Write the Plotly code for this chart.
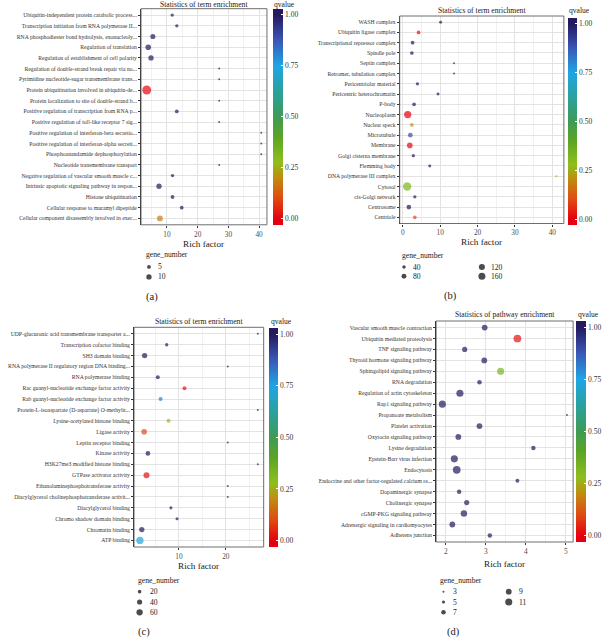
import plotly.graph_objects as go

W, H = 604, 638
FONT = "Liberation Serif"

# ---------------- data ----------------
a_terms = [
    "Ubiquitin-independent protein catabolic process...",
    "Transcription initiation from RNA polymerase II...",
    "RNA phosphodiester bond hydrolysis, exonucleoly...",
    "Regulation of translation",
    "Regulation of establishment of cell polarity",
    "Regulation of double-strand break repair via no...",
    "Pyrimidine nucleotide-sugar transmembrane trans...",
    "Protein ubiquitination involved in ubiquitin-de...",
    "Protein localization to site of double-strand b...",
    "Positive regulation of transcription from RNA p...",
    "Positive regulation of toll-like receptor 7 sig...",
    "Positive regulation of interferon-beta secretio...",
    "Positive regulation of interferon-alpha secreti...",
    "Phosphoanandamide dephosphorylation",
    "Nucleotide transmembrane transport",
    "Negative regulation of vascular smooth muscle c...",
    "Intrinsic apoptotic signaling pathway in respon...",
    "Histone ubiquitination",
    "Cellular response to muramyl dipeptide",
    "Cellular component disassembly involved in exec...",
]
a_rich = [11.7, 13.2, 5.4, 3.9, 4.8, 27.0, 27.0, 3.4, 27.0, 13.2,
          27.0, 40.7, 40.7, 40.7, 27.0, 11.8, 7.4, 11.8, 14.8, 7.7]
a_qvalue = [1.0, 1.0, 1.0, 1.0, 1.0, 1.0, 1.0, 0.01, 1.0, 1.0,
            1.0, 1.0, 1.0, 1.0, 1.0, 1.0, 1.0, 1.0, 1.0, 0.18]
a_genes = [4, 4, 9, 11, 10, 1, 1, 28, 1, 5, 1, 1, 1, 1, 1, 4, 10, 5, 5, 12]
a_breaks = [5, 10]

b_terms = [
    "WASH complex", "Ubiquitin ligase complex", "Transcriptional repressor complex",
    "Spindle pole", "Septin complex", "Retromer, tubulation complex",
    "Pericentriolar material", "Pericentric heterochromatin", "P-body",
    "Nucleoplasm", "Nuclear speck", "Microtubule", "Membrane",
    "Golgi cisterna membrane", "Flemming body", "DNA polymerase III complex",
    "Cytosol", "cis-Golgi network", "Centrosome", "Centriole",
]
b_rich = [10.1, 4.2, 2.6, 2.4, 13.7, 13.7, 3.9, 9.4, 3.0, 1.3,
          2.4, 2.0, 1.85, 2.8, 7.2, 41.1, 1.15, 3.2, 1.6, 3.2]
b_qvalue = [1.0, 0.02, 1.0, 1.0, 1.0, 1.0, 1.0, 1.0, 1.0, 0.0,
            0.22, 0.9, 0.01, 1.0, 1.0, 0.27, 0.32, 1.0, 1.0, 0.1]
b_genes = [29, 45, 45, 45, 8, 8, 36, 29, 45, 175, 45, 72, 105, 36, 29, 5, 225, 36, 72, 45]
b_breaks = [40, 80, 120, 160]

c_terms = [
    "UDP-glucuronic acid transmembrane transporter a...",
    "Transcription cofactor binding",
    "SH3 domain binding",
    "RNA polymerase II regulatory region DNA binding...",
    "RNA polymerase binding",
    "Rac guanyl-nucleotide exchange factor activity",
    "Rab guanyl-nucleotide exchange factor activity",
    "Protein-L-isoaspartate (D-aspartate) O-methyltr...",
    "Lysine-acetylated histone binding",
    "Ligase activity",
    "Leptin receptor binding",
    "Kinase activity",
    "H3K27me3 modified histone binding",
    "GTPase activator activity",
    "Ethanolaminephosphotransferase activity",
    "Diacylglycerol cholinephosphotransferase activit...",
    "Diacylglycerol binding",
    "Chromo shadow domain binding",
    "Chromatin binding",
    "ATP binding",
]
c_rich = [26.8, 7.4, 2.7, 20.4, 5.5, 11.2, 6.1, 26.8, 7.8, 2.6,
          20.4, 3.4, 26.8, 3.1, 20.4, 20.4, 8.3, 9.6, 2.1, 1.7]
c_qvalue = [1.0, 1.0, 1.0, 1.0, 1.0, 0.02, 0.82, 1.0, 0.28, 0.1,
            1.0, 1.0, 1.0, 0.02, 1.0, 1.0, 1.0, 1.0, 1.0, 0.74]
c_genes = [3, 17, 42, 3, 24, 24, 24, 3, 24, 48, 3, 33, 3, 54, 3, 3, 14, 14, 42, 80]
c_breaks = [20, 40, 60]

d_terms = [
    "Vascular smooth muscle contraction", "Ubiquitin mediated proteolysis",
    "TNF signaling pathway", "Thyroid hormone signaling pathway",
    "Sphingolipid signaling pathway", "RNA degradation",
    "Regulation of actin cytoskeleton", "Rap1 signaling pathway",
    "Propanoate metabolism", "Platelet activation", "Oxytocin signaling pathway",
    "Lysine degradation", "Epstein-Barr virus infection", "Endocytosis",
    "Endocrine and other factor-regulated calcium re...", "Dopaminergic synapse",
    "Cholinergic synapse", "cGMP-PKG signaling pathway",
    "Adrenergic signaling in cardiomyocytes", "Adherens junction",
]
d_rich = [2.97, 3.79, 2.47, 2.96, 3.37, 2.84, 2.35, 1.91, 5.03, 2.84,
          2.31, 4.19, 2.21, 2.27, 3.79, 2.33, 2.52, 2.45, 2.16, 3.10]
d_qvalue = [1.0, 0.02, 1.0, 1.0, 0.33, 1.0, 1.0, 1.0, 1.0, 1.0,
            1.0, 1.0, 1.0, 1.0, 1.0, 1.0, 1.0, 1.0, 1.0, 1.0]
d_genes = [9, 12, 8, 9, 11, 7, 11, 11, 3, 9, 9, 7, 11, 12, 6, 7, 8, 10, 9, 7]
d_breaks = [3, 5, 7, 9, 11]

q_ticks = [0.0, 0.25, 0.5, 0.75, 1.0]


# ---------------- styling ----------------
def fx(p):
    return p / W


def fy(p):
    return 1 - p / H


Q_STOPS = [(0.0, "#e6000f"), (0.1, "#e04a12"), (0.2, "#c28a0e"), (0.28, "#8ebf1c"),
           (0.4, "#5ca523"), (0.5, "#3e9b55"), (0.62, "#2aa19c"), (0.75, "#1fa5e5"),
           (0.88, "#3a55b4"), (1.0, "#241a5d")]
CMIN, CMAX = -0.03, 1.03
COLORSCALE = [[0.0, Q_STOPS[0][1]]] + \
    [[(q - CMIN) / (CMAX - CMIN), c] for q, c in Q_STOPS] + [[1.0, Q_STOPS[-1][1]]]

panels = [
    dict(terms=a_terms, rich=a_rich, q=a_qvalue, genes=a_genes, breaks=a_breaks,
         title="Statistics of term enrichment", tag="(a)",
         box=(141.7, 8.7, 268.3, 224.8), cbar=(274, 284, 8.7, 224.8), title_y=4.0,
         dtick=10, sizemode="area", sizeref=0.7,
         xtitle_y=243.6, leg_title=(145, 254.8), leg0=(149.7, 266.9), leg_pitch=(10, 10),
         leg_nrows=2, leg_txt=7.5, tag_xy=(152.5, 296.7)),
    dict(terms=b_terms, rich=b_rich, q=b_qvalue, genes=b_genes, breaks=b_breaks,
         title="Statistics of term enrichment", tag="(b)",
         box=(401.7, 16.0, 566.7, 223.5), cbar=(570.7, 580, 18, 225), title_y=10.7,
         dtick=10, sizemode="area", sizeref=6.54,
         xtitle_y=242.2, leg_title=(401.7, 255.7), leg0=(406, 267), leg_pitch=(78.3, 9.3),
         leg_nrows=2, leg_txt=7.5, tag_xy=(453, 295.7)),
    dict(terms=c_terms, rich=c_rich, q=c_qvalue, genes=c_genes, breaks=c_breaks,
         title="Statistics of term enrichment", tag="(c)",
         box=(134.7, 327.3, 265, 547), cbar=(270.7, 279.5, 327.8, 547), title_y=321.5,
         dtick=10, sizemode="area", sizeref=3.0,
         xtitle_y=565.5, leg_title=(136.7, 580.7), leg0=(140.3, 591.7), leg_pitch=(10, 10.3),
         leg_nrows=3, leg_txt=8, tag_xy=(145, 631.7)),
    dict(terms=d_terms, rich=d_rich, q=d_qvalue, genes=d_genes, breaks=d_breaks,
         title="Statistics of pathway enrichment", tag="(d)",
         box=(438.3, 321, 576, 542), cbar=(579, 588.7, 321, 541.5), title_y=314.3,
         dtick=1, sizemode="diameter", sizeref=1.55,
         xtitle_y=564, leg_title=(440, 580.7), leg0=(445.7, 591.7), leg_pitch=(65.6, 10.3),
         leg_nrows=3, leg_txt=8, tag_xy=(456, 631.7)),
]

fig = go.Figure()
layout = dict(
    width=W, height=H, margin=dict(l=0, r=0, t=0, b=0),
    paper_bgcolor="white", plot_bgcolor="white", showlegend=False,
    font=dict(family=FONT, color="#333333"),
)
annotations = []
shapes = []

for i, p in enumerate(panels):
    n = i + 1
    sfx = "" if n == 1 else str(n)
    l, t, r, b = p["box"]
    lo, hi = min(p["rich"]), max(p["rich"])
    pad = 0.05 * (hi - lo)
    nterm = len(p["terms"])

    fig.add_trace(go.Scatter(
        x=p["rich"], y=p["terms"], mode="markers",
        marker=dict(size=p["genes"], sizemode=p["sizemode"], sizeref=p["sizeref"], sizemin=1,
                    color=p["q"], coloraxis="coloraxis" + sfx, line=dict(width=0)),
        xaxis="x" + sfx, yaxis="y" + sfx, cliponaxis=False, hoverinfo="skip",
    ))

    layout["xaxis" + sfx] = dict(
        domain=[fx(l), fx(r)], anchor="y" + sfx, range=[lo - pad, hi + pad],
        tick0=0, dtick=p["dtick"], showgrid=True, gridcolor="#e3e3e3", gridwidth=0.8,
        minor=dict(dtick=p["dtick"] / 2, showgrid=True, gridcolor="#f1f1f1", gridwidth=0.5),
        ticks="outside", ticklen=2, tickcolor="#333333", tickwidth=0.8,
        tickfont=dict(size=7.3, family=FONT, color="#4d4d4d"),
        zeroline=False, showline=False, fixedrange=True,
    )
    layout["yaxis" + sfx] = dict(
        domain=[fy(b), fy(t)], anchor="x" + sfx, type="category",
        categoryorder="array", categoryarray=p["terms"],
        range=[nterm - 1 + 0.6, -0.6],
        showgrid=True, gridcolor="#e3e3e3", gridwidth=0.8,
        ticks="outside", ticklen=2, tickcolor="#333333", tickwidth=0.8,
        tickfont=dict(size=5.7, family=FONT, color="#333333"),
        showline=True, linecolor="#1a1a1a", linewidth=1, zeroline=False, fixedrange=True,
    )
    shapes.append(dict(type="rect", xref="x" + sfx + " domain", yref="y" + sfx + " domain",
                       x0=0, x1=1, y0=0, y1=1, line=dict(color="#6e6e6e", width=1),
                       layer="above"))

    cl, cr, ct, cb = p["cbar"]
    layout["coloraxis" + sfx] = dict(
        colorscale=COLORSCALE, cmin=CMIN, cmax=CMAX,
        colorbar=dict(
            x=fx(cl), xanchor="left", y=fy(ct), yanchor="top",
            len=(cb - ct) / H, lenmode="fraction", thickness=cr - cl, thicknessmode="pixels",
            xpad=0, ypad=0, outlinewidth=0,
            tickvals=q_ticks, ticktext=["%.2f" % v for v in q_ticks],
            ticks="inside", tickcolor="white", ticklen=2, tickwidth=0.8,
            tickfont=dict(size=7.5, family=FONT, color="#333333"),
        ),
    )

    # titles
    annotations.append(dict(text=p["title"], x=fx((l + r) / 2), y=fy(p["title_y"]),
                            xref="paper", yref="paper", showarrow=False,
                            xanchor="center", yanchor="middle",
                            font=dict(size=7.6, family=FONT, color="#1a1a1a")))
    annotations.append(dict(text="qvalue", x=fx(cl - 0.5), y=fy(p["title_y"]),
                            xref="paper", yref="paper", showarrow=False,
                            xanchor="left", yanchor="middle",
                            font=dict(size=7.6, family=FONT, color="#1a1a1a")))
    annotations.append(dict(text="Rich factor", x=fx((l + r) / 2), y=fy(p["xtitle_y"]),
                            xref="paper", yref="paper", showarrow=False,
                            xanchor="center", yanchor="middle",
                            font=dict(size=9.2, family=FONT, color="#1a1a1a")))
    annotations.append(dict(text="gene_number", x=fx(p["leg_title"][0]), y=fy(p["leg_title"][1]),
                            xref="paper", yref="paper", showarrow=False,
                            xanchor="left", yanchor="middle",
                            font=dict(size=7.6, family=FONT, color="#1a1a1a")))
    annotations.append(dict(text=p["tag"], x=fx(p["tag_xy"][0]), y=fy(p["tag_xy"][1]),
                            xref="paper", yref="paper", showarrow=False,
                            xanchor="center", yanchor="middle",
                            font=dict(size=10.5, family=FONT, color="#1a1a1a")))

    # size legend (its own small axes, same size scaling as the data)
    m = n + 4
    lsfx = str(m)
    nb = len(p["breaks"])
    nrows = p["leg_nrows"]
    ncols = (nb + nrows - 1) // nrows
    cols = [k // nrows for k in range(nb)]
    rows = [k % nrows for k in range(nb)]
    x0, y0 = p["leg0"]
    cpitch, rpitch = p["leg_pitch"]
    fig.add_trace(go.Scatter(
        x=cols, y=rows, mode="markers",
        marker=dict(size=p["breaks"], sizemode=p["sizemode"], sizeref=p["sizeref"], sizemin=1,
                    color="black", line=dict(width=0)),
        xaxis="x" + lsfx, yaxis="y" + lsfx, cliponaxis=False, hoverinfo="skip",
    ))
    layout["xaxis" + lsfx] = dict(
        domain=[fx(x0 - cpitch / 2), fx(x0 + (ncols - 0.5) * cpitch)],
        range=[-0.5, ncols - 0.5], visible=False, anchor="y" + lsfx, fixedrange=True)
    layout["yaxis" + lsfx] = dict(
        domain=[fy(y0 + (nrows - 0.5) * rpitch), fy(y0 - rpitch / 2)],
        range=[nrows - 0.5, -0.5], visible=False, anchor="x" + lsfx, fixedrange=True)
    for k, bv in enumerate(p["breaks"]):
        annotations.append(dict(text=str(bv),
                                x=fx(x0 + cols[k] * cpitch + p["leg_txt"]),
                                y=fy(y0 + rows[k] * rpitch),
                                xref="paper", yref="paper", showarrow=False,
                                xanchor="left", yanchor="middle",
                                font=dict(size=7.6, family=FONT, color="#1a1a1a")))

layout["annotations"] = annotations
layout["shapes"] = shapes
fig.update_layout(**layout)
fig.write_html(
    "out.html",
    config={"displayModeBar": False},
    post_script="document.body.style.margin='0px';document.body.style.overflow='hidden';",
)
